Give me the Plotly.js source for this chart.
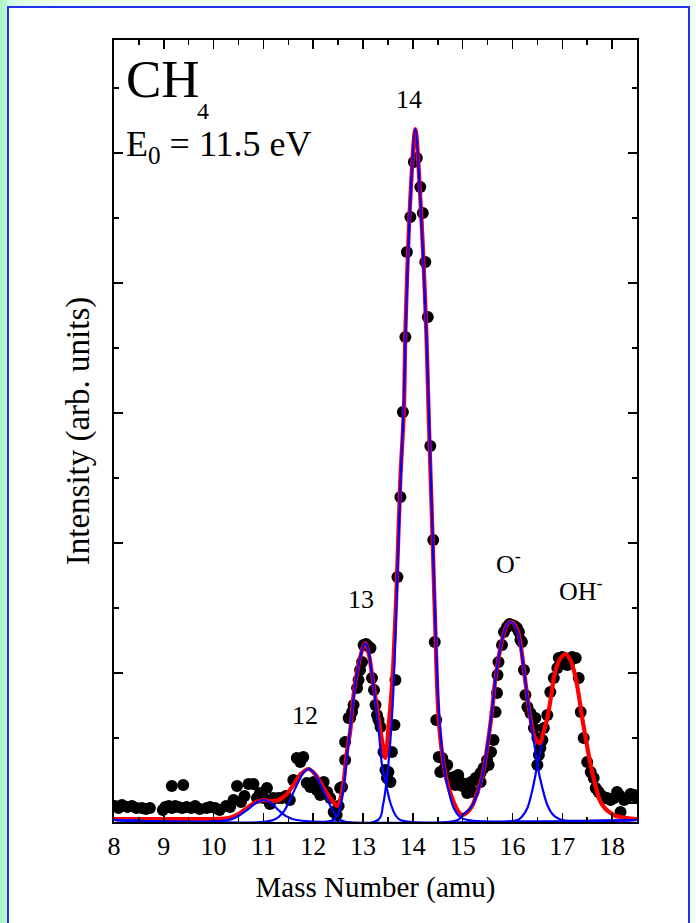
<!DOCTYPE html>
<html>
<head>
<meta charset="utf-8">
<script src="https://cdn.plot.ly/plotly-3.0.1.min.js"></script>
<style>
  html, body { margin: 0; padding: 0; }
  body { width: 696px; height: 923px; position: relative; overflow: hidden;
         background: linear-gradient(90deg, #a4f4c4 0px, #d8fbe6 12px, #eefff4 60px, #f2fff6 100%); }
  #frame { position: absolute; left: 7px; top: 6px; width: 683px; height: 930px;
           border: 2px solid #2233ee; background: #ffffff; box-sizing: border-box; }
  #chart { position: absolute; left: 0; top: 0; width: 696px; height: 923px; }
</style>
</head>
<body>
<div id="frame"></div>
<div id="chart"></div>
<script>
// ---- measured data points (mass number, intensity in arbitrary units) ----
const dataMass = [8.02,8.09,8.16,8.27,8.36,8.45,8.56,8.64,8.72,8.98,9.03,9.10,9.16,9.16,9.23,9.29,9.39,9.37,9.46,9.55,9.63,9.72,9.86,9.93,10.03,10.12,10.25,10.33,10.40,10.47,10.55,10.62,10.70,10.80,10.87,10.93,11.00,11.07,11.13,11.20,11.30,11.37,11.45,11.53,11.60,11.67,11.74,11.80,11.87,11.94,12.01,12.07,12.14,12.21,12.28,12.34,12.41,12.47,12.51,12.54,12.58,12.64,12.64,12.71,12.74,12.78,12.81,12.88,12.91,12.94,12.98,13.01,13.06,13.10,13.15,13.18,13.22,13.25,13.28,13.31,13.35,13.41,13.45,13.48,13.51,13.55,13.58,13.63,13.65,13.69,13.75,13.80,13.85,13.88,13.95,14.02,14.08,14.15,14.20,14.25,14.30,14.35,14.41,14.44,14.47,14.52,14.55,14.59,14.64,14.69,14.75,14.82,14.85,14.91,14.95,14.99,15.05,15.09,15.12,15.17,15.22,15.26,15.31,15.36,15.36,15.42,15.49,15.52,15.57,15.62,15.66,15.69,15.70,15.72,15.79,15.83,15.89,15.94,15.99,16.04,16.09,16.13,16.16,16.19,16.23,16.26,16.30,16.36,16.43,16.46,16.50,16.50,16.53,16.56,16.60,16.63,16.70,16.76,16.83,16.90,16.93,17.00,17.05,17.10,17.15,17.20,17.27,17.33,17.37,17.43,17.50,17.57,17.63,17.67,17.73,17.80,17.85,17.90,17.97,18.04,18.10,18.14,18.17,18.24,18.30,18.37,18.44,18.50];
const dataIntensity = [14,12,15,13,14,12,12,11,12,10,13,14,34,12,14,13,35,12,13,12,14,11,12,13,12,10,14,13,20,34,18,24,36,36,22,27,22,32,16,22,22,22,24,20,40,62,58,63,37,33,38,30,25,38,28,22,8,5,14,32,33,60,78,102,102,108,115,132,140,150,158,175,176,174,172,142,130,115,105,100,93,68,50,42,48,38,68,95,140,243,323,408,483,568,603,658,662,633,607,558,503,374,280,178,100,63,48,62,52,55,42,43,35,45,38,34,36,27,32,38,28,42,40,47,38,52,60,55,68,80,108,127,145,158,175,188,193,196,195,194,192,188,180,178,150,125,113,107,92,102,82,55,65,72,80,92,105,128,142,152,162,163,160,155,158,163,162,142,108,82,58,48,42,32,28,24,22,22,20,22,28,25,8,20,22,26,25,22];

// ---- total fit (red) ----
const fitMass = [8.0,9.0,10.0,10.3,10.5,10.67,10.85,11.0,11.15,11.3,11.45,11.6,11.75,11.91,12.05,12.2,12.34,12.48,12.55,12.61,12.68,12.74,12.81,12.88,12.94,13.0,13.05,13.12,13.18,13.25,13.31,13.38,13.45,13.51,13.56,13.61,13.68,13.75,13.82,13.85,13.95,14.05,14.15,14.27,14.32,14.39,14.45,14.52,14.62,14.69,14.82,14.95,15.0,15.1,15.2,15.29,15.4,15.49,15.58,15.66,15.75,15.83,15.9,15.98,16.05,16.13,16.23,16.3,16.36,16.45,16.55,16.62,16.70,16.77,16.83,16.90,16.97,17.07,17.14,17.20,17.27,17.33,17.40,17.47,17.53,17.60,17.68,17.77,17.87,17.97,18.07,18.17,18.3,18.5];
const fitIntensity = [1,1,1,2,6,12,18,20,19,20,25,35,46,51,45,33,22,14,22,38,70,88,125,148,162,173,177,165,145,122,102,80,62,92,120,158,242,342,410,488,622,691,622,488,400,292,192,100,55,38,18,6,5,8,15,27,45,72,105,142,170,187,196,198,195,185,150,122,102,82,77,88,102,122,142,155,162,166,162,155,142,125,102,82,65,48,32,18,11,7,4,3,2,1];

// ---- individual peak components (blue) ----
const peak11Mass = [8.0,10.3,10.5,10.67,10.85,11.0,11.15,11.3,11.45,11.67,18.5];
const peak11Int  = [0,0,4,10,17,20,17,10,4,0,0];
const peak12Mass = [8.0,11.2,11.4,11.55,11.7,11.8,11.91,12.02,12.14,12.27,12.4,12.54,18.5];
const peak12Int  = [0,0,8,22,38,47,51,47,36,22,9,0,0];
const peak13Mass = [8.0,12.4,12.5,12.58,12.68,12.74,12.81,12.88,12.94,13.0,13.05,13.12,13.18,13.25,13.31,13.38,13.45,13.55,13.65,13.75,18.5];
const peak13Int  = [0,0,6,22,65,90,122,148,162,173,177,166,145,118,92,55,38,17,5,0,0];
const peak14Mass = [8.0,13.3,13.4,13.47,13.55,13.61,13.68,13.75,13.82,13.85,13.95,14.05,14.15,14.27,14.32,14.39,14.45,14.52,14.62,14.69,14.82,14.95,15.1,18.5];
const peak14Int  = [0,0,15,38,80,130,230,335,420,480,620,691,620,488,410,295,200,110,55,35,12,3,0,0];
const peak16Mass = [8.0,14.9,15.0,15.1,15.2,15.29,15.4,15.49,15.58,15.66,15.75,15.83,15.9,15.98,16.05,16.13,16.23,16.3,16.36,16.45,16.50,16.6,16.7,16.8,16.9,17.0,18.5];
const peak16Int  = [0,0,5,9,15,26,45,72,105,142,170,187,196,198,194,183,150,122,100,72,55,32,15,6,2,0,0];
const peak17Mass = [8.0,16.1,16.2,16.3,16.4,16.5,16.55,16.62,16.70,16.77,16.83,16.90,16.97,17.07,17.14,17.20,17.27,17.33,17.40,17.47,17.53,17.60,17.68,17.77,17.87,17.97,18.07,18.17,18.3,18.5];
const peak17Int  = [0,0,4,12,30,55,66,85,102,122,142,155,162,166,162,155,142,125,102,82,65,48,32,18,11,7,4,3,2,1];

// ---- labels ----
const xTitle = 'Mass Number (amu)';
const yTitle = 'Intensity (arb. units)';
const peakLabels = ['12','13','14','O<sup>-</sup>','OH<sup>-</sup>'];
const peakLabelMass = [11.84,12.96,13.93,15.92,17.38];
const peakLabelInt  = [105,221,721,258,231];

const serif = 'Liberation Serif, Times New Roman, serif';

function blueTrace(m, v) {
  return { x: m, y: v, type: 'scatter', mode: 'lines',
    line: { color: '#0000ff', width: 2.2, shape: 'spline', smoothing: 0.9 } };
}

const traces = [
  { x: dataMass, y: dataIntensity, type: 'scatter', mode: 'markers',
    marker: { color: '#000000', size: 12 }, hoverinfo: 'skip' },
  blueTrace(peak17Mass, peak17Int),
  { x: fitMass, y: fitIntensity, type: 'scatter', mode: 'lines',
    line: { color: '#ff0000', width: 4.2, shape: 'spline', smoothing: 0.9 } },
  blueTrace(peak11Mass, peak11Int),
  blueTrace(peak12Mass, peak12Int),
  blueTrace(peak13Mass, peak13Int),
  blueTrace(peak14Mass, peak14Int),
  blueTrace(peak16Mass, peak16Int)
];

const annotations = peakLabels.map(function (t, i) {
  return { x: peakLabelMass[i], y: peakLabelInt[i], xref: 'x', yref: 'y', text: t,
    showarrow: false, font: { family: serif, size: 26, color: '#000' } };
});
annotations.push({ xref: 'paper', yref: 'paper', x: 0.02, y: 0.99, xanchor: 'left', yanchor: 'top',
  text: 'CH', showarrow: false, font: { family: serif, size: 53, color: '#000' } });
annotations.push({ xref: 'paper', yref: 'paper', x: 0.155, y: 0.928, xanchor: 'left', yanchor: 'top',
  text: '4', showarrow: false, font: { family: serif, size: 24, color: '#000' } });
annotations.push({ xref: 'paper', yref: 'paper', x: 0.02, y: 0.895, xanchor: 'left', yanchor: 'top',
  text: 'E<sub>0</sub> = 11.5 eV', showarrow: false, font: { family: serif, size: 36, color: '#000' } });

const layout = {
  width: 696, height: 923,
  margin: { l: 114, r: 59, t: 40, b: 101 },
  paper_bgcolor: 'rgba(0,0,0,0)', plot_bgcolor: 'rgba(0,0,0,0)',
  showlegend: false,
  font: { family: serif, color: '#000' },
  xaxis: {
    range: [8, 18.5], tick0: 8, dtick: 1, ticks: 'inside', ticklen: 9, tickwidth: 1.5,
    tickcolor: '#000', showline: true, linecolor: '#000', linewidth: 2, mirror: 'ticks',
    showgrid: false, zeroline: false,
    tickfont: { family: serif, size: 26, color: '#000' },
    minor: { dtick: 0.5, ticks: 'inside', ticklen: 5, tickwidth: 1.5, tickcolor: '#000', showgrid: false },
    title: { text: xTitle, font: { family: serif, size: 29, color: '#000' }, standoff: 16 }
  },
  yaxis: {
    range: [-2, 780], tick0: 17, dtick: 130, ticks: 'inside', ticklen: 9, tickwidth: 1.5,
    tickcolor: '#000', showline: true, linecolor: '#000', linewidth: 2, mirror: 'ticks',
    showgrid: false, zeroline: false, showticklabels: false,
    minor: { tick0: 17, dtick: 65, ticks: 'inside', ticklen: 5, tickwidth: 1.5, tickcolor: '#000', showgrid: false },
    title: { text: yTitle, font: { family: serif, size: 33, color: '#000' }, standoff: 12 }
  },
  annotations: annotations
};

Plotly.newPlot('chart', traces, layout, { displayModeBar: false, staticPlot: true });
</script>
</body>
</html>
